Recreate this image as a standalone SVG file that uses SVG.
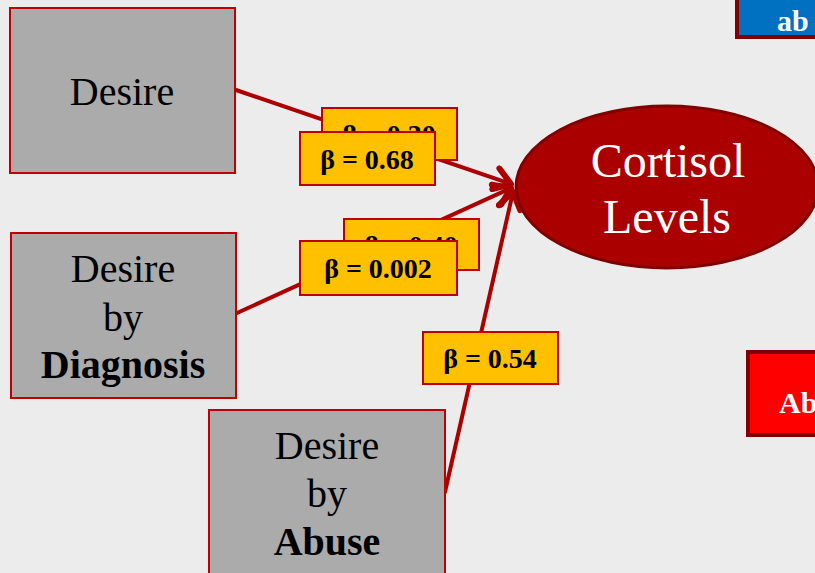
<svg xmlns="http://www.w3.org/2000/svg" width="815" height="573" viewBox="0 0 815 573">
<defs>
<marker id="arr" viewBox="-20 -14 24 28" markerWidth="24" markerHeight="28" refX="0" refY="0" orient="auto" markerUnits="userSpaceOnUse">
<path d="M -16 -11 L 0 0 L -16 11" fill="none" stroke="#AA0000" stroke-width="6" stroke-linecap="round" stroke-linejoin="round"/>
</marker>
<style>
.node rect{fill:#ABABAB;stroke:#C00000;stroke-width:2}
.nt{font-family:"Liberation Serif","DejaVu Serif",serif;font-size:40px;fill:#000;text-anchor:middle}
.b{font-weight:bold}
.lbl rect{fill:#FFC000;stroke:#C00000;stroke-width:2}
.lt{font-family:"Liberation Serif","DejaVu Serif",serif;font-size:28px;font-weight:bold;fill:#000;text-anchor:middle}
.wt{font-family:"Liberation Serif","DejaVu Serif",serif;fill:#fff}
.conn line{stroke:#AA0000;stroke-width:4;stroke-linecap:round}
</style>
</defs>
<rect x="0" y="0" width="815" height="573" fill="#ECECEC"/>
<g id="topbox">
<rect x="737" y="-4" width="90" height="41" fill="#0070C0" stroke="#800000" stroke-width="4"/>
<text class="wt" x="777" y="31" font-size="30" font-weight="bold">ab</text>
</g>
<g id="abbox">
<rect x="748" y="352" width="80" height="83" fill="#FF0000" stroke="#800000" stroke-width="4"/>
<text class="wt" x="779" y="413" font-size="30" font-weight="bold">Ab</text>
</g>
<g class="conn">
<line x1="236" y1="90" x2="511" y2="184" marker-end="url(#arr)"/>
<line x1="237" y1="313" x2="511" y2="188" marker-end="url(#arr)"/>
<line x1="445" y1="492" x2="513" y2="192" marker-end="url(#arr)"/>
</g>
<g id="desire" class="node">
<rect x="10" y="8" width="225" height="165"/>
<text class="nt" x="122" y="105">Desire</text>
</g>
<g id="desire-diagnosis" class="node">
<rect x="11" y="233" width="225" height="165"/>
<text class="nt" x="123" y="282">Desire</text>
<text class="nt" x="123" y="331">by</text>
<text class="nt b" x="123" y="378">Diagnosis</text>
</g>
<g id="desire-abuse" class="node">
<rect x="209" y="410" width="236" height="175"/>
<text class="nt" x="327" y="459">Desire</text>
<text class="nt" x="327" y="507">by</text>
<text class="nt b" x="327" y="555">Abuse</text>
</g>
<g id="cortisol">
<ellipse cx="667" cy="187" rx="151" ry="81" fill="#AA0000" stroke="#800000" stroke-width="3"/>
<text class="wt" x="668" y="177" font-size="48" text-anchor="middle">Cortisol</text>
<text class="wt" x="667" y="233" font-size="48" text-anchor="middle">Levels</text>
</g>
<g id="labels">
<g class="lbl"><rect x="322" y="108" width="135" height="52"/><text class="lt" x="389" y="144">β = 0.30</text></g>
<g class="lbl"><rect x="300" y="132" width="135" height="53"/><text class="lt" x="367" y="169">β = 0.68</text></g>
<g class="lbl"><rect x="344" y="219" width="135" height="51"/><text class="lt" x="411" y="255">β = 0.40</text></g>
<g class="lbl"><rect x="300" y="241" width="157" height="54"/><text class="lt" x="378" y="278">β = 0.002</text></g>
<g class="lbl"><rect x="423" y="332" width="135" height="52"/><text class="lt" x="490" y="368">β = 0.54</text></g>
</g>
</svg>
